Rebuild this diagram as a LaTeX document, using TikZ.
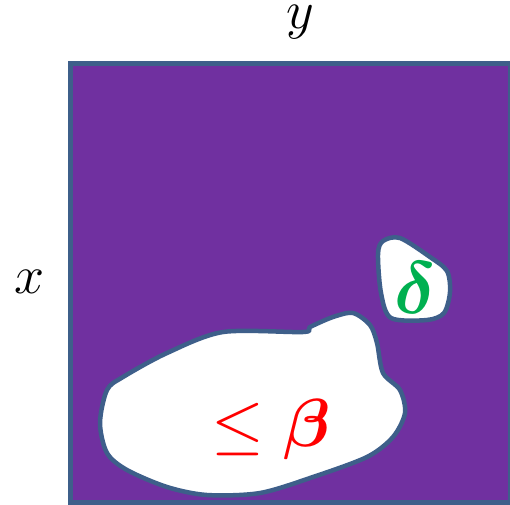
\RequirePackage{fix-cm}
\documentclass[tikz,border=0pt]{standalone}
\usepackage{amsmath, amssymb, bm}
\usepackage{tikz}
\definecolor{mPurple}{HTML}{7030A0}
\definecolor{mBorder}{HTML}{3E5F8A}
\definecolor{mRed}{HTML}{FF0000}
\definecolor{mGreen}{HTML}{00B050}
\tikzset{
  hole/.style={fill=white, draw=mBorder, line width=4.5pt, line join=round},
  axislabel/.style={font=\fontsize{54}{60}\selectfont, anchor=base, inner sep=0pt}
}
\begin{document}
\begin{tikzpicture}[x=1pt, y=-1pt]
    \useasboundingbox (0,0) rectangle (510,504);
    \clip (0,0) rectangle (510,504);
    \fill[mPurple] (70,63.5) rectangle (510.5,502.5);
    \draw[mBorder, line width=5pt] (70,63.5) rectangle (510.5,502.5);
    % small hole
    \draw[hole] plot[smooth cycle, tension=0.5] coordinates {
      (383,241) (400,238) (430,257) (447,271) (450,292) (444,313)
      (427,320) (391,318) (381,293) (378,254)};
    % large hole
    \draw[hole] plot[smooth cycle, tension=0.5] coordinates {
      (100,423) (107,390) (123,377) (167,353) (223,332) (303,332)
      (310,327) (333,317) (353,313) (370,325) (377,343) (383,373)
      (400,390) (405,413) (393,437) (367,457) (313,477) (260,493)
      (207,495) (167,487) (127,470) (107,453)};
    \node[axislabel] (ylab) at (300,28) {$y$};
    \node[axislabel] (xlab) at (29.5,293) {$x$};
    \node[text=mGreen, anchor=base, inner sep=0pt, font=\fontsize{74}{80}\selectfont] (delta) at (415,313) {$\bm{\delta}$};
    \node[text=mRed, anchor=base, inner sep=0pt, font=\fontsize{68}{76}\selectfont] (beta) at (271,446) {$\leq \bm{\beta}$};
  \end{tikzpicture}
\end{document}
